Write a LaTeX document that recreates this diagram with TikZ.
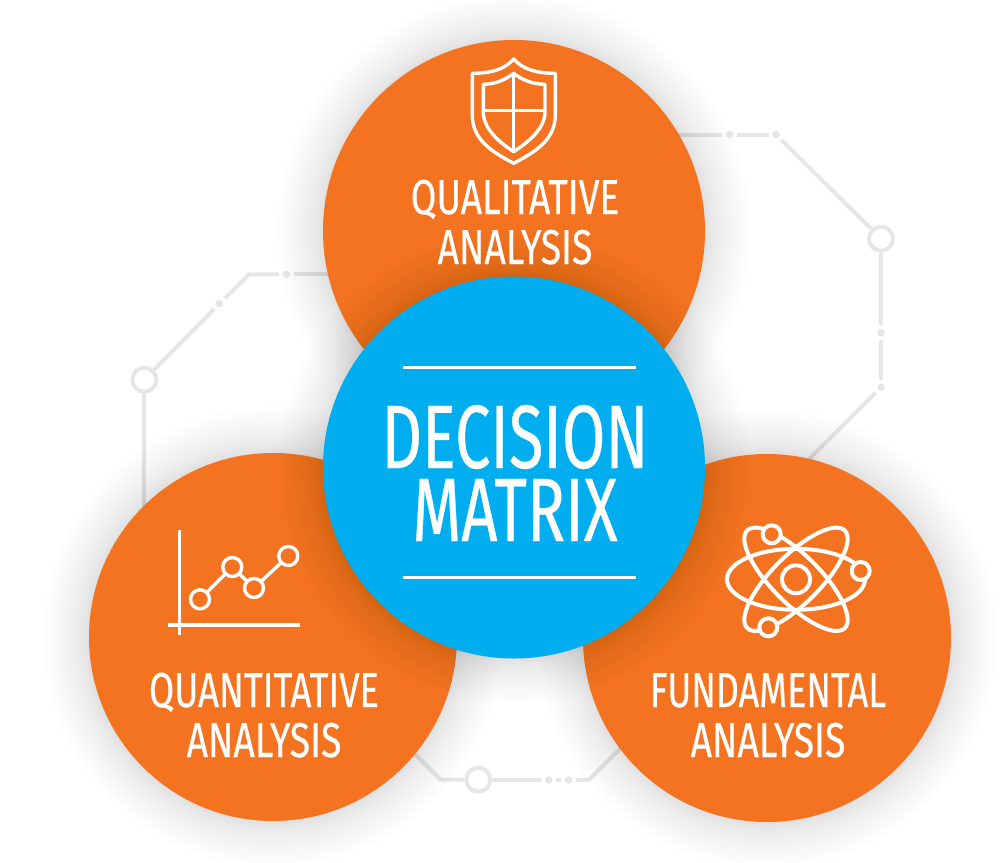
\documentclass[tikz,border=0pt]{standalone}
\usepackage{fontspec}
\setmainfont{Fira Sans}
\newfontfamily\condfont[FakeStretch=0.76,FakeBold=0.35]{Fira Sans}
\newfontfamily\condbigfont[FakeStretch=0.70,FakeBold=0.35]{Fira Sans}
\definecolor{orangeC}{HTML}{F37321}
\definecolor{blueC}{HTML}{00AEEF}
\definecolor{wireC}{HTML}{E6E6E6}
\newcommand{\softshadow}[3]{%
  \foreach \i in {1,...,16}{%
    \pgfmathsetmacro{\rr}{#3+46*pow(\i/16,1.6)}%
    \fill[black,opacity=0.0065] (#1,#2) circle[radius=\rr];
  }%
}
\tikzset{
  wire/.style={draw=wireC,line width=2pt},
  ring/.style={circle,draw=wireC,line width=2pt,minimum size=12pt,inner sep=0pt},
  wiredot/.style={circle,fill=wireC,minimum size=3.8pt,inner sep=0pt,outer sep=1.8pt},
  bigorange/.style={circle,fill=orangeC,minimum size=184pt,inner sep=0pt},
  bigblue/.style={circle,fill=blueC,minimum size=191pt,inner sep=0pt},
  toporange/.style={circle,fill=orangeC,minimum size=191pt,inner sep=0pt},
  iconline/.style={draw=white,line width=1.7pt,line join=round},
  atomline/.style={iconline,line width=2pt},
  ruleline/.style={draw=white,line width=1.5pt},
  label/.style={text=white,inner sep=0pt,font=\condfont\fontsize{24.5}{28}\selectfont,anchor=base},
  biglabel/.style={text=white,inner sep=0pt,font=\condbigfont\fontsize{45}{50}\selectfont,anchor=base}
}
\begin{document}
\begin{tikzpicture}[x=0.5pt,y=-0.5pt]
\useasboundingbox (0,0) rectangle (1000,862);
% wires
\node[ring] (ringR) at (881,238.7) {};
\node[ring] (ringL) at (144.3,379.7) {};
\node[ring] (ringB) at (478.3,779.7) {};
\node[wiredot] (d1) at (729.7,134.5) {};
\node[wiredot] (d2) at (776,134.5) {};
\node[wiredot] (d3) at (881,332.7) {};
\node[wiredot] (d4) at (881,387.3) {};
\node[wiredot] (d5) at (286.3,274.3) {};
\node[wiredot] (d6) at (219.3,303.7) {};
\node[wiredot] (d7) at (548.7,780) {};
\node[wiredot] (d8) at (568.7,780) {};
\coordinate (a1) at (660,134.5);
\coordinate (a2) at (790,478);
\coordinate (a3) at (340,274.3);
\coordinate (a4) at (249,274.3);
\coordinate (a5) at (144.3,530);
\coordinate (a6) at (400,739);
\coordinate (a7) at (440.7,779.7);
\coordinate (a8) at (589,779.7);
\coordinate (a9) at (630,739);
\draw[wire] (a1) -- (d1);
\draw[wire] (d1) -- (d2);
\draw[wire] (d2) -- (ringR);
\draw[wire] (ringR) -- (d3);
\draw[wire] (d3) -- (d4);
\draw[wire] (d4) -- (a2);
\draw[wire] (a3) -- (d5);
\draw[wire] (d5) -- (a4) -- (d6);
\draw[wire] (d6) -- (ringL);
\draw[wire] (ringL) -- (a5);
\draw[wire] (a6) -- (a7) -- (ringB);
\draw[wire] (ringB) -- (d7);
\draw[wire] (d7) -- (d8);
\draw[wire] (d8) -- (a8) -- (a9);
% outer circles
\softshadow{273}{637}{184}
\softshadow{767}{638}{184}
\softshadow{514}{231}{191}
\node[bigorange] (left) at (273,637) {};
\node[bigorange] (right) at (767,638) {};
\node[toporange] (top) at (514,231) {};
% centre
\softshadow{514}{467.5}{191}
\node[bigblue] (centre) at (514,467.5) {};
% centre rules
\coordinate (r1) at (403,367); \coordinate (r2) at (636,367);
\coordinate (r3) at (403,577); \coordinate (r4) at (636,577);
\draw[ruleline] (r1) -- (r2);
\draw[ruleline] (r3) -- (r4);
% texts
\node[biglabel] (t1) at (515,468) {DECISION};
\node[biglabel] (t2) at (515,541) {MATRIX};
\node[label] (t3) at (515,214) {QUALITATIVE};
\node[label] (t4) at (515,264) {ANALYSIS};
\node[label] (t5) at (264,707) {\scalebox{0.98}[1]{QUANTITATIVE}};
\node[label] (t6) at (264,757) {ANALYSIS};
\node[label] (t7) at (768,707) {\scalebox{0.965}[1]{FUNDAMENTAL}};
\node[label] (t8) at (768,757) {ANALYSIS};
% shield
\draw[iconline] (513.7,59) .. controls (523,70) and (538,73.3) .. (555.3,73.3)
  -- (555.3,115) .. controls (555.3,140) and (535,152) .. (513.7,163.3)
  .. controls (492.4,152) and (472.3,140) .. (472.3,115) -- (472.3,73.3)
  .. controls (489.4,73.3) and (504.4,70) .. cycle;
\draw[iconline] (513.7,73.3) .. controls (522,80) and (533,84.3) .. (545,84.3)
  -- (545,111.7) .. controls (545,128) and (530,141) .. (513.7,151.7)
  .. controls (497.4,141) and (483.3,128) .. (483.3,111.7) -- (483.3,84.3)
  .. controls (494.4,84.3) and (505.4,80) .. cycle;
\draw[iconline] (513.7,73.3) -- (513.7,151.7);
\draw[iconline] (483.3,110.7) -- (545,110.7);
% chart
\draw[iconline] (179.3,530) -- (179.3,635.3);
\draw[iconline] (167.7,625) -- (300,625);
\draw[iconline] (200,599.3) -- (232.3,567) -- (254,588) -- (288.3,556);
\foreach \p in {(200,599.3),(232.3,567),(254,588),(288.3,556)}
  \draw[iconline,fill=orangeC] \p circle[radius=9.5];
% atom
\draw[atomline] (796,579.3) circle[radius=14];
\draw[atomline] (796,579.3) ellipse[x radius=69,y radius=30.5];
\draw[atomline,rotate around={45:(796,579.3)}] (796,579.3) ellipse[x radius=69,y radius=24];
\draw[atomline,rotate around={-45:(796,579.3)}] (796,579.3) ellipse[x radius=69,y radius=24];
\foreach \p in {(771.7,534.3),(860.7,571),(768.3,627.3)}
  \draw[atomline,fill=orangeC] \p circle[radius=9];
\end{tikzpicture}
\end{document}
